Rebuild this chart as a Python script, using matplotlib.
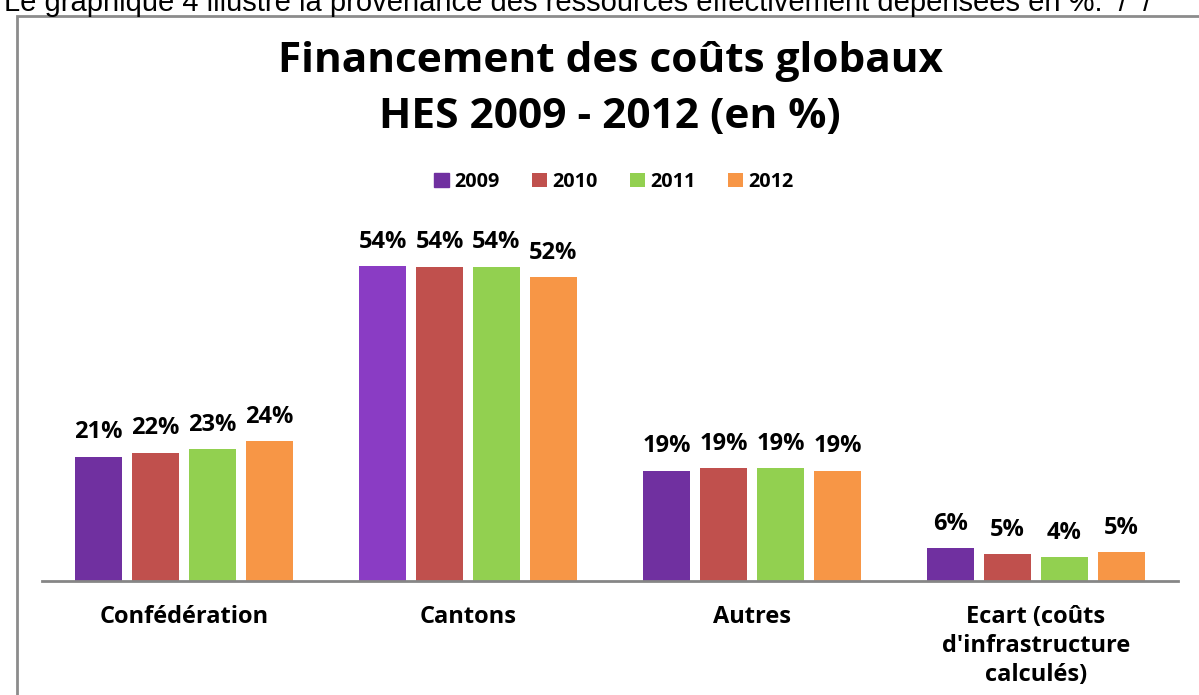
import matplotlib
matplotlib.use('Agg')
import matplotlib.pyplot as plt
from matplotlib.patches import Rectangle
import numpy as np

# Données
categories = ['Confédération', 'Cantons', 'Autres', "Ecart (coûts\nd'infrastructure\ncalculés)"]
annees = ['2009', '2010', '2011', '2012']
v2009 = [21.3, 54.0, 18.9, 5.6]
v2010 = [22.0, 53.9, 19.4, 4.6]
v2011 = [22.6, 53.9, 19.4, 4.1]
v2012 = [24.0, 52.1, 18.9, 5.0]
couleurs = ['#7030A0', '#C0504D', '#92D050', '#F79646']
# la barre 2009 des cantons est plus claire dans l'original
couleurs_2009 = ['#7030A0', '#8A3CC4', '#7030A0', '#7030A0']

plt.rcParams['font.family'] = ['Open Sans', 'DejaVu Sans']

fig = plt.figure(figsize=(11.99, 6.95), dpi=100)

# texte coupé en haut
fig.text(0.003, 0.984, "Le graphique 4 illustre la provenance des ressources effectivement dépensées en %.  /  /",
         fontsize=21, family='Liberation Sans', va='baseline', ha='left')

# cadre gris
fig.patches.append(Rectangle((17 / 1199, -0.2), 1.2, 1.2 - 16 / 695,
                             transform=fig.transFigure, fill=False,
                             edgecolor='#8c8c8c', linewidth=2, zorder=0))

ax = fig.add_axes([42 / 1199, 1 - 581 / 695, (1178 - 42) / 1199, (581 - 231) / 695])

x = np.arange(len(categories))
largeur = 0.162
pas = 0.2007
series = [v2009, v2010, v2011, v2012]
for i, (vals, annee) in enumerate(zip(series, annees)):
    pos = x + (i - 1.5) * pas
    cols = couleurs_2009 if i == 0 else [couleurs[i]] * len(vals)
    bars = ax.bar(pos, vals, width=largeur, color=cols, label=annee, zorder=2)
    for b, v in zip(bars, vals):
        ax.text(b.get_x() + b.get_width() / 2, v + 2.1, f'{round(v):d}%',
                ha='center', va='bottom', fontsize=17, fontweight='bold')

ax.set_xlim(-0.5, 3.5)
ax.set_ylim(0, 60)
ax.set_yticks([])
for s in ['top', 'right', 'left']:
    ax.spines[s].set_visible(False)
ax.spines['bottom'].set_color('#868686')
ax.spines['bottom'].set_linewidth(2)
ax.set_xticks(x)
ax.set_xticklabels(categories, fontsize=17, fontweight='bold', linespacing=1.3, va='top')
ax.tick_params(axis='x', length=0, pad=17)

fig.text(0.509, 1 - 62 / 695, 'Financement des coûts globaux', ha='center', va='center',
         fontsize=30.5, fontweight='bold')
fig.text(0.509, 1 - 117 / 695, 'HES 2009 - 2012 (en %)', ha='center', va='center',
         fontsize=30.5, fontweight='bold')

leg = fig.legend(*ax.get_legend_handles_labels(), loc='center', bbox_to_anchor=(0.512, 1 - 182 / 695),
                 ncol=4, frameon=False, prop={'weight': 'bold', 'size': 14.3},
                 handlelength=0.75, handleheight=0.75, handletextpad=0.3, columnspacing=1.6)
# couleur de la légende 2009
leg.legend_handles[0].set_color('#7030A0')

fig.savefig('out.png', dpi=100)
